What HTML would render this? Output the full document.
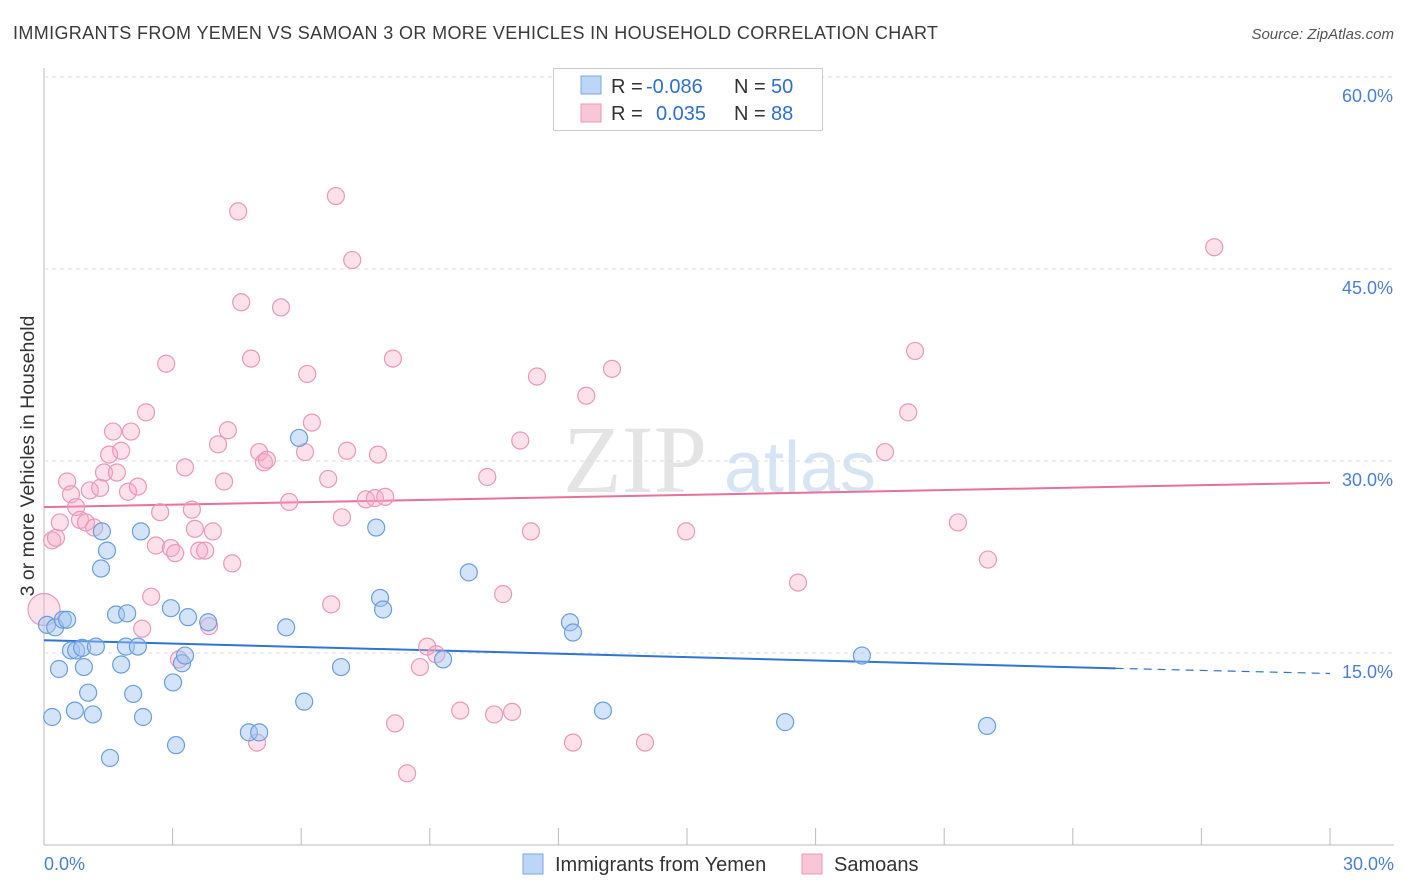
<!DOCTYPE html>
<html><head><meta charset="utf-8">
<style>
body{margin:0;background:#fff;font-family:"Liberation Sans",sans-serif;}
svg{display:block}
</style></head>
<body>
<svg id="chart" width="1406" height="892">
<text x="13" y="39" font-size="18" textLength="925" fill="#3a3a3a">IMMIGRANTS FROM YEMEN VS SAMOAN 3 OR MORE VEHICLES IN HOUSEHOLD CORRELATION CHART</text>
<text x="1394" y="39" font-size="15" fill="#555" font-style="italic" text-anchor="end">Source: ZipAtlas.com</text>
<text x="635" y="492" font-size="96" fill="#e4e4e4" font-family="Liberation Serif,serif" text-anchor="middle">ZIP</text>
<text x="800" y="492" font-size="72" fill="#d6e4f4" text-anchor="middle">atlas</text>
<text transform="translate(34,456) rotate(-90)" font-size="19.5" fill="#333" text-anchor="middle">3 or more Vehicles in Household</text>
<g id="grid"></g><g id="ticks"></g><g id="trends"></g><g id="pts"></g>
<g>
<rect x="553.5" y="68.5" width="269" height="62" fill="#fff" stroke="#ccc"/>
<rect x="581" y="76" width="20" height="18" fill="#bcd6f5" stroke="#7aa8e4"/>
<rect x="581" y="104" width="20" height="18" fill="#f8c6d6" stroke="#ec9ab6"/>
<text x="611" y="93" font-size="20" fill="#333">R = <tspan x="646" fill="#2e6fd0">-0.086</tspan><tspan x="734">N = </tspan><tspan x="771" fill="#2e6fd0">50</tspan></text>
<text x="611" y="120" font-size="20" fill="#333">R = <tspan x="656" fill="#2e6fd0">0.035</tspan><tspan x="734">N = </tspan><tspan x="771" fill="#2e6fd0">88</tspan></text>
</g>
<g>
<rect x="523" y="854" width="20" height="20" fill="#bcd6f5" stroke="#7aa8e4"/>
<text x="555" y="871" font-size="20" fill="#333">Immigrants from Yemen</text>
<rect x="802" y="854" width="20" height="20" fill="#f8c6d6" stroke="#ec9ab6"/>
<text x="834" y="871" font-size="20" fill="#333">Samoans</text>
</g>
</svg>
<script>
const yTicks=[15,30,45,60];
const yTickLabels=["15.0%","30.0%","45.0%","60.0%"];
const xTickLabels=["0.0%","30.0%"];
const blueX=[0.07,0.19,0.26,0.35,0.44,0.54,0.63,0.72,0.75,0.89,0.93,1.03,1.14,1.21,1.35,1.33,1.47,1.54,1.68,1.80,1.94,1.91,2.08,2.19,2.26,2.31,2.96,3.01,3.08,3.22,3.29,3.36,3.83,4.78,5.02,5.65,5.95,6.07,6.93,7.75,7.84,7.91,9.31,9.91,12.27,12.34,13.04,17.29,19.08,22.0];
const blueY=[17.2,10.0,17.0,13.75,17.6,17.6,15.2,10.5,15.2,15.4,13.9,11.9,10.2,15.5,24.5,21.6,23.0,6.8,18.0,14.1,18.1,15.5,11.8,15.5,24.5,10.0,18.5,12.7,7.8,14.2,14.8,17.8,17.4,8.8,8.8,17.0,31.8,11.2,13.9,24.8,19.3,18.4,14.5,21.3,17.4,16.6,10.5,9.6,14.8,9.3];
const pinkX=[0,0.19,0.28,0.37,0.54,0.63,0.75,0.84,0.98,1.07,1.17,1.31,1.40,1.52,1.61,1.70,1.80,1.96,2.03,2.19,2.29,2.38,2.50,2.61,2.71,2.85,2.96,3.06,3.15,3.29,3.45,3.52,3.62,3.76,3.85,3.94,4.06,4.20,4.29,4.39,4.53,4.60,4.83,4.97,5.02,5.13,5.20,5.53,5.72,6.09,6.14,6.25,6.63,6.70,6.81,6.95,7.07,7.19,7.51,7.72,7.79,7.96,8.14,8.19,8.47,8.77,8.94,9.15,9.71,10.34,10.50,10.71,10.92,11.11,11.36,11.50,12.34,12.65,13.25,14.02,14.98,17.59,19.62,20.16,20.32,21.32,22.02,27.30];
const pinkY=[18.4,23.8,24.0,25.2,28.4,27.4,26.4,25.4,25.2,27.7,24.8,27.9,29.1,30.5,32.3,29.1,30.8,27.6,32.3,28.0,16.9,33.8,19.4,23.4,26.0,37.6,23.2,22.8,14.5,29.5,26.2,24.7,23.0,23.0,17.1,24.5,31.3,28.4,32.4,22.0,49.5,42.4,38.0,8.0,30.7,29.9,30.1,42.0,26.8,30.7,36.8,33.0,28.6,18.8,50.7,25.6,30.8,45.7,27.0,27.1,30.5,27.2,38.0,9.5,5.6,13.9,15.5,14.9,10.5,28.75,10.2,19.6,10.4,31.6,24.5,36.6,8.0,35.1,37.2,8.0,24.5,20.5,30.7,33.8,38.6,25.2,22.3,46.7];
const blueTrend=[16.0,13.8,13.4];
const pinkTrend=[26.4,28.3];
const NS="http://www.w3.org/2000/svg";
const X=v=>44+v/30*1286;
const Y=v=>845-v/15*192;
function mk(tag,attrs,parent){const e=document.createElementNS(NS,tag);for(const k in attrs)e.setAttribute(k,attrs[k]);document.getElementById(parent).appendChild(e);return e;}
let ln=mk('line',{x1:44,y1:845,x2:1394,y2:845,stroke:'#bbb'},'grid');


ln=mk('line',{x1:44,y1:68,x2:44,y2:845,stroke:'#bbb'},'grid');


yTicks.forEach((t,i)=>{
  const g=mk('line',{x1:44,y1:Y(t),x2:1394,y2:Y(t),stroke:'#ddd','stroke-dasharray':'4,4'},'grid');
  
  
  const tx=mk('text',{x:1393,y:Y(t)+25,'font-size':18,fill:'#4a7fd6','text-anchor':'end'},'ticks');
  tx.textContent=yTickLabels[i];
  
  
});
for(let i=0;i<=10;i++){
  const t=mk('line',{x1:X(i*3),y1:828,x2:X(i*3),y2:845,stroke:'#bbb'},'ticks');
  
  
}
[[0,'start'],[30,'end']].forEach((p,i)=>{
  const tx=mk('text',{x:i?1394:44,y:870,'font-size':18,fill:'#4a7fd6','text-anchor':p[1]},'ticks');
  tx.textContent=xTickLabels[i];
  
  
});
let tl=mk('line',{x1:X(0),y1:Y(blueTrend[0]),x2:X(25),y2:Y(blueTrend[1]),stroke:'#2e75d6','stroke-width':2},'trends');


tl=mk('line',{x1:X(25),y1:Y(blueTrend[1]),x2:X(30),y2:Y(blueTrend[2]),stroke:'#2e75d6','stroke-width':1.2,'stroke-dasharray':'8,6'},'trends');


tl=mk('line',{x1:X(0),y1:Y(pinkTrend[0]),x2:X(30),y2:Y(pinkTrend[1]),stroke:'#e8709a','stroke-width':2},'trends');


pinkX.forEach((x,i)=>{
  const c=mk('circle',{cx:X(x),cy:Y(pinkY[i]),r:i===0?16:8.5,fill:'rgba(245,170,198,0.35)',stroke:'#eb98b6','stroke-width':1.2},'pts');
  
  
});
blueX.forEach((x,i)=>{
  const c=mk('circle',{cx:X(x),cy:Y(blueY[i]),r:8.5,fill:'rgba(160,196,240,0.45)',stroke:'#6a9ee0','stroke-width':1.2},'pts');
  
  
});
</script>
</body></html>
